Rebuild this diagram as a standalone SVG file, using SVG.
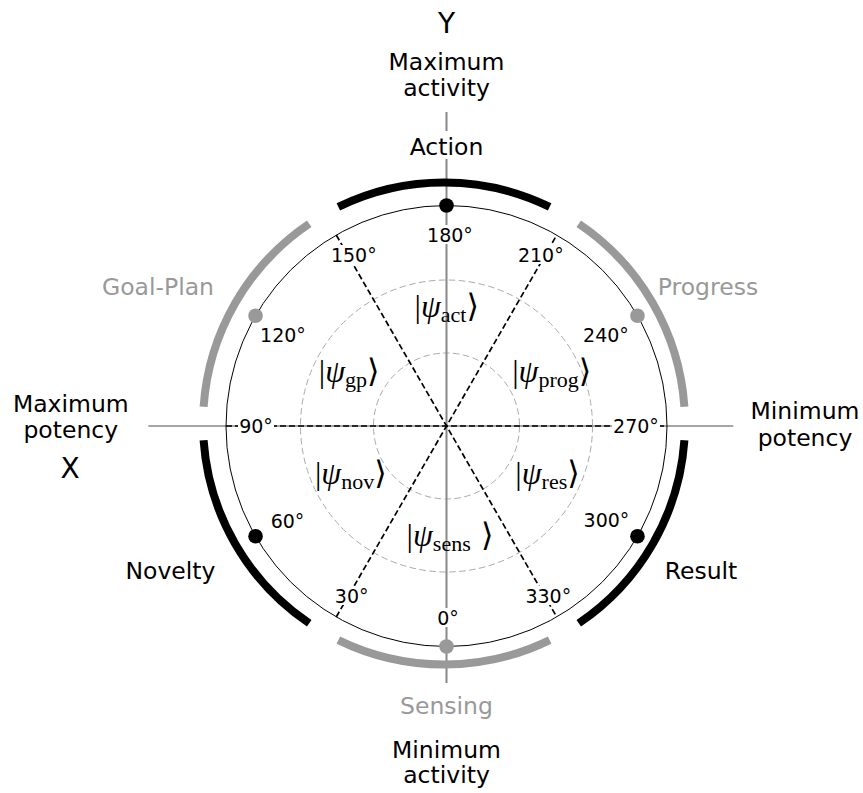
<svg xmlns="http://www.w3.org/2000/svg" width="863" height="793" viewBox="0 0 863 793">
<defs>
<style>
.sans{font-family:"DejaVu Sans","Liberation Sans",sans-serif;}
.big{font-size:23.5px;text-anchor:middle;}
.axl{font-size:28px;text-anchor:middle;}
.tick{font-family:"DejaVu Sans",sans-serif;font-size:19px;text-anchor:middle;fill:#000;}
.gray{fill:#999999;}
.blk{fill:#000;}
.axis{stroke:#888888;fill:none;}
.theta{stroke:#000;stroke-width:1.7;stroke-dasharray:6 3;fill:none;}
.rgrid{stroke:#aaaaaa;stroke-width:1;stroke-dasharray:6.5 3.5;fill:none;}
.arcB{stroke:#000;stroke-width:8;fill:none;}
.arcG{stroke:#999999;stroke-width:8;fill:none;}
.bg{fill:#fff;}
.ket{font-family:"Liberation Serif","DejaVu Serif",serif;font-size:32px;text-anchor:middle;fill:#000;}
.psi{font-style:italic;}
.sub{font-size:22px;}
.ang{font-family:"DejaVu Serif",serif;}
</style>
</defs>
<rect width="863" height="793" fill="#fff"/>

<g id="grid">
<circle class="rgrid" cx="446.5" cy="426" r="73"/>
<circle class="rgrid" cx="446.5" cy="426" r="146"/>
</g>

<g id="axes">
<line class="axis" x1="446.5" y1="112" x2="446.5" y2="683" stroke-width="2"/>
<line class="axis" x1="148.3" y1="426" x2="733.3" y2="426" stroke-width="1.5"/>
</g>

<g id="connectors">
<line class="theta" x1="226" y1="426" x2="667" y2="426"/>
<line class="theta" x1="336.25" y1="616.96" x2="556.75" y2="235.04"/>
<line class="theta" x1="336.25" y1="235.04" x2="556.75" y2="616.96"/>
<circle cx="446.5" cy="426" r="220.5" fill="none" stroke="#000" stroke-width="1"/>
</g>

<g id="ticks">
<rect class="bg" x="436" y="608" width="24" height="19"/>
<text class="tick" x="448" y="625">0°</text>
<rect class="bg" x="333" y="586" width="37.5" height="19"/>
<text class="tick" x="351.7" y="603">30°</text>
<text class="tick" x="287.5" y="528.3">60°</text>
<rect class="bg" x="238" y="416.5" width="36" height="19"/>
<text class="tick" x="256" y="433.3">90°</text>
<text class="tick" x="283" y="341.7">120°</text>
<rect class="bg" x="329.5" y="245" width="48.5" height="19"/>
<text class="tick" x="353.8" y="261.7">150°</text>
<rect class="bg" x="425.5" y="225" width="49" height="19"/>
<text class="tick" x="450" y="241.7">180°</text>
<rect class="bg" x="516.5" y="245" width="48.5" height="19"/>
<text class="tick" x="540.8" y="261.7">210°</text>
<text class="tick" x="606" y="341.7">240°</text>
<rect class="bg" x="612" y="416.5" width="48" height="19"/>
<text class="tick" x="636" y="433.3">270°</text>
<text class="tick" x="606.5" y="526.7">300°</text>
<rect class="bg" x="523.5" y="586" width="49.5" height="19"/>
<text class="tick" x="548.3" y="603">330°</text>
</g>

<g id="action">
<path class="arcB" d="M338.35,206.89 A241,241 0 0 1 549.65,206.89"/>
<circle cx="446.5" cy="205.5" r="7.3" fill="#000"/>
<rect class="bg" x="405" y="131" width="83" height="28"/>
<text class="sans big blk" x="446.5" y="155">Action</text>
</g>

<g id="progress">
<path class="arcG" d="M578.76,223.70 A241,241 0 0 1 684.41,406.69"/>
<circle cx="637.46" cy="315.75" r="7.3" fill="#999999"/>
<text class="sans big gray" x="708" y="295">Progress</text>
</g>

<g id="result">
<path class="arcB" d="M684.41,440.31 A241,241 0 0 1 578.76,623.30"/>
<circle cx="637.46" cy="536.25" r="7.3" fill="#000"/>
<text class="sans big blk" x="701" y="579">Result</text>
</g>

<g id="sensing">
<path class="arcG" d="M549.65,640.11 A241,241 0 0 1 338.35,640.11"/>
<circle cx="446.5" cy="646.5" r="7.3" fill="#999999"/>
<text class="sans big gray" x="446.5" y="714">Sensing</text>
</g>

<g id="novelty">
<path class="arcB" d="M309.24,623.30 A241,241 0 0 1 203.59,440.31"/>
<circle cx="255.54" cy="536.25" r="7.3" fill="#000"/>
<text class="sans big blk" x="170.5" y="579">Novelty</text>
</g>

<g id="goal-plan">
<path class="arcG" d="M203.59,406.69 A241,241 0 0 1 309.24,223.70"/>
<circle cx="255.54" cy="315.75" r="7.3" fill="#999999"/>
<text class="sans big gray" x="158" y="295">Goal-Plan</text>
</g>

<g id="kets">
<text class="ket" x="446.7" y="317">|<tspan class="psi">ψ</tspan><tspan class="sub" dy="5">act</tspan><tspan class="ang" dy="-5">⟩</tspan></text>
<text class="ket" x="349.2" y="382">|<tspan class="psi">ψ</tspan><tspan class="sub" dy="5">gp</tspan><tspan class="ang" dy="-5">⟩</tspan></text>
<text class="ket" x="551.7" y="382">|<tspan class="psi">ψ</tspan><tspan class="sub" dy="5">prog</tspan><tspan class="ang" dy="-5">⟩</tspan></text>
<text class="ket" x="350.8" y="484">|<tspan class="psi">ψ</tspan><tspan class="sub" dy="5">nov</tspan><tspan class="ang" dy="-5">⟩</tspan></text>
<text class="ket" x="547.5" y="484">|<tspan class="psi">ψ</tspan><tspan class="sub" dy="5">res</tspan><tspan class="ang" dy="-5">⟩</tspan></text>
<text class="ket" x="450" y="546">|<tspan class="psi">ψ</tspan><tspan class="sub" dy="5">sens</tspan><tspan class="ang" dy="-5"> ⟩</tspan></text>
</g>

<g id="axis-labels">
<text class="sans axl blk" x="446.5" y="33.3">Y</text>
<text class="sans big blk" x="446.5" y="70">Maximum</text>
<text class="sans big blk" x="446.5" y="96">activity</text>
<text class="sans big blk" x="446.5" y="758">Minimum</text>
<text class="sans big blk" x="446.5" y="783.3">activity</text>
<text class="sans big blk" x="70.8" y="411.7">Maximum</text>
<text class="sans big blk" x="70.8" y="437.7">potency</text>
<text class="sans axl blk" x="70" y="478.3">X</text>
<text class="sans big blk" x="805" y="419">Minimum</text>
<text class="sans big blk" x="805" y="445.7">potency</text>
</g>
</svg>
